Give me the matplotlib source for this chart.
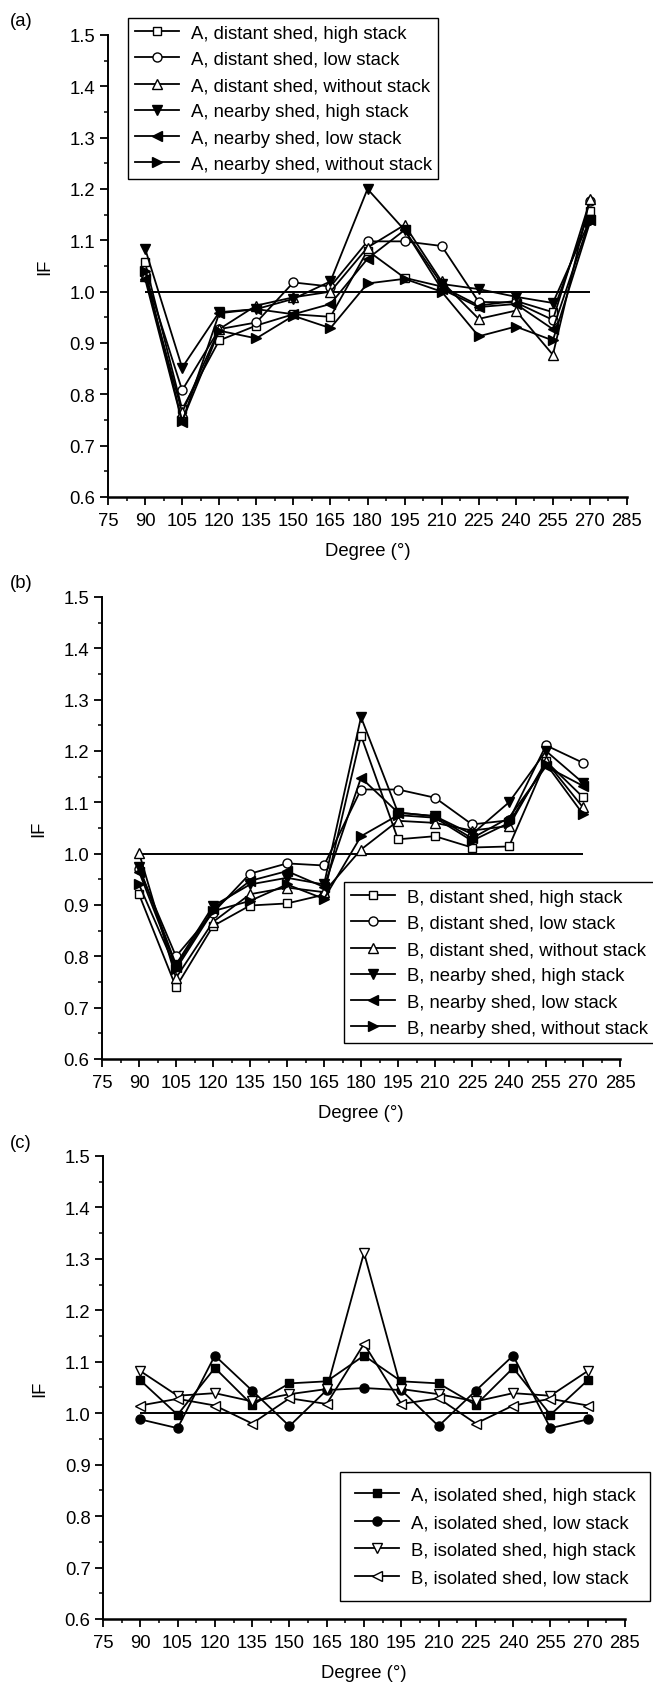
import matplotlib
matplotlib.use("Agg")
import matplotlib.pyplot as plt
from matplotlib.ticker import MultipleLocator

FS = 13.3
plt.rcParams['font.family'] = ['Liberation Sans', 'DejaVu Sans']
plt.rcParams['font.size'] = FS

degrees = [90, 105, 120, 135, 150, 165, 180, 195, 210, 225, 240, 255, 270]

# Panel (a)
a_labels = ["A, distant shed, high stack", "A, distant shed, low stack",
            "A, distant shed, without stack", "A, nearby shed, high stack",
            "A, nearby shed, low stack", "A, nearby shed, without stack"]
a_dist_high = [1.057, 0.771, 0.905, 0.934, 0.956, 0.951, 1.080, 1.027, 1.010, 0.973, 0.982, 0.960, 1.158]
a_dist_low = [1.035, 0.808, 0.927, 0.940, 1.018, 1.010, 1.098, 1.098, 1.089, 0.980, 0.979, 0.945, 1.177]
a_dist_none = [1.030, 0.765, 0.927, 0.973, 0.989, 1.000, 1.086, 1.130, 1.020, 0.947, 0.963, 0.877, 1.180]
a_near_high = [1.084, 0.852, 0.960, 0.966, 0.986, 1.020, 1.200, 1.120, 1.015, 1.005, 0.990, 0.978, 1.140]
a_near_low = [1.025, 0.746, 0.958, 0.966, 0.956, 0.976, 1.064, 1.120, 1.005, 0.970, 0.976, 0.927, 1.140]
a_near_none = [1.040, 0.748, 0.924, 0.909, 0.953, 0.929, 1.016, 1.025, 1.000, 0.913, 0.932, 0.905, 1.135]

# Panel (b)
b_labels = ["B, distant shed, high stack", "B, distant shed, low stack",
            "B, distant shed, without stack", "B, nearby shed, high stack",
            "B, nearby shed, low stack", "B, nearby shed, without stack"]
b_dist_high = [0.921, 0.740, 0.859, 0.899, 0.903, 0.920, 1.230, 1.028, 1.034, 1.012, 1.014, 1.180, 1.110]
b_dist_low = [0.970, 0.800, 0.885, 0.961, 0.981, 0.977, 1.125, 1.125, 1.109, 1.057, 1.065, 1.211, 1.177]
b_dist_none = [1.002, 0.758, 0.867, 0.921, 0.934, 0.925, 1.008, 1.064, 1.060, 1.045, 1.054, 1.180, 1.090]
b_near_high = [0.975, 0.784, 0.898, 0.940, 0.953, 0.940, 1.266, 1.080, 1.073, 1.038, 1.100, 1.200, 1.138]
b_near_low = [0.965, 0.780, 0.892, 0.947, 0.966, 0.935, 1.148, 1.080, 1.073, 1.030, 1.070, 1.170, 1.132]
b_near_none = [0.940, 0.775, 0.888, 0.908, 0.940, 0.912, 1.034, 1.075, 1.070, 1.025, 1.060, 1.175, 1.077]

# Panel (c)
c_labels = ["A, isolated shed, high stack", "A, isolated shed, low stack",
            "B, isolated shed, high stack", "B, isolated shed, low stack"]
c_a_high = [1.064, 0.997, 1.088, 1.016, 1.058, 1.062, 1.112, 1.062, 1.058, 1.016, 1.088, 0.997, 1.064]
c_a_low = [0.988, 0.971, 1.112, 1.044, 0.975, 1.045, 1.049, 1.045, 0.975, 1.044, 1.112, 0.971, 0.988]
c_b_high = [1.082, 1.034, 1.039, 1.023, 1.037, 1.047, 1.312, 1.047, 1.037, 1.023, 1.039, 1.034, 1.082]
c_b_low = [1.015, 1.028, 1.015, 0.980, 1.029, 1.018, 1.135, 1.018, 1.029, 0.980, 1.015, 1.028, 1.015]

x_ticks = list(range(75, 286, 15))
y_ticks = [0.6, 0.7, 0.8, 0.9, 1.0, 1.1, 1.2, 1.3, 1.4, 1.5]

W, H = 653, 1683
fig = plt.figure(figsize=(W / 100, H / 100), dpi=100)


def px_axes(left, right, top, bottom):
    return fig.add_axes([left / W, 1 - bottom / H, (right - left) / W, (bottom - top) / H])


def style_axes(ax):
    ax.set_xlim(75, 285)
    ax.set_ylim(0.6, 1.5)
    ax.set_xticks(x_ticks)
    ax.set_yticks(y_ticks)
    ax.set_yticklabels([f"{v:.1f}" for v in y_ticks])
    ax.xaxis.set_minor_locator(MultipleLocator(7.5))
    ax.yaxis.set_minor_locator(MultipleLocator(0.05))
    for s in ['top', 'right']:
        ax.spines[s].set_visible(False)
    ax.spines['left'].set_linewidth(1.4)
    ax.spines['bottom'].set_linewidth(1.8)
    ax.tick_params(which='major', direction='out', length=6, width=1.3, labelsize=FS)
    ax.tick_params(axis='x', which='major', pad=5)
    ax.tick_params(axis='y', which='major', pad=3)
    ax.tick_params(which='minor', direction='out', length=3, width=1.1)
    ax.set_ylabel("IF", fontsize=FS)
    ax.set_xlabel("Degree (°)", fontsize=FS)
    ax.yaxis.set_label_coords(-0.105, 0.5)
    ax.xaxis.set_label_coords(0.5, -0.098)
    ax.hlines(1.0, degrees[0], degrees[-1], color='black', lw=1.4, zorder=1)


def add_series(ax, series, markers, fills, labels):
    handles = []
    for ys, m, f, lab in zip(series, markers, fills, labels):
        ms = {'s': 6.0, 'o': 6.5}.get(m, 7.5)
        h, = ax.plot(degrees, ys, color='black', lw=1.3, marker=m, ms=ms,
                     mfc='black' if f else 'white', mec='black', mew=1.0,
                     label=lab, zorder=3)
        handles.append(h)
    return handles


def add_legend(ax, handles, left, top, borderpad=0.36, labelspacing=0.5):
    leg = ax.legend(handles=handles, loc='upper left',
                    bbox_to_anchor=(left / W, 1 - top / H), bbox_transform=fig.transFigure,
                    borderaxespad=0, frameon=True, fancybox=False, framealpha=1,
                    edgecolor='black', fontsize=FS, handlelength=2.38,
                    handletextpad=0.65, labelspacing=labelspacing, borderpad=borderpad,
                    numpoints=1)
    leg.get_frame().set_linewidth(1.0)
    return leg


# (a)
ax_a = px_axes(108, 627, 36, 498)
style_axes(ax_a)
h = add_series(ax_a, [a_dist_high, a_dist_low, a_dist_none, a_near_high, a_near_low, a_near_none],
               ['s', 'o', '^', 'v', '<', '>'], [False, False, False, True, True, True], a_labels)
add_legend(ax_a, h, 128, 19)

# (b)
ax_b = px_axes(102, 620, 598, 1060)
style_axes(ax_b)
h = add_series(ax_b, [b_dist_high, b_dist_low, b_dist_none, b_near_high, b_near_low, b_near_none],
               ['s', 'o', '^', 'v', '<', '>'], [False, False, False, True, True, True], b_labels)
add_legend(ax_b, h, 344, 883)

# (c)
ax_c = px_axes(103, 625, 1157, 1620)
style_axes(ax_c)
h = add_series(ax_c, [c_a_high, c_a_low, c_b_high, c_b_low],
               ['s', 'o', 'v', '<'], [True, True, False, False], c_labels)
add_legend(ax_c, h, 340, 1473, borderpad=0.8, labelspacing=0.57)

fig.text(10 / W, 1 - 22 / H, "(a)", fontsize=FS, va='center', ha='left')
fig.text(10 / W, 1 - 583 / H, "(b)", fontsize=FS, va='center', ha='left')
fig.text(10 / W, 1 - 1144 / H, "(c)", fontsize=FS, va='center', ha='left')

fig.savefig("out.png", dpi=100, facecolor='white')
